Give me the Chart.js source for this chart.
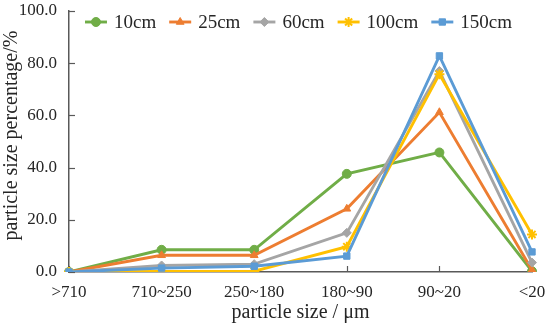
<!DOCTYPE html>
<html>
<head>
<meta charset="utf-8">
<script src="https://cdn.jsdelivr.net/npm/chart.js@4/dist/chart.umd.min.js"></script>
<style>
  html, body { margin: 0; padding: 0; background: #ffffff; }
  #wrap { width: 550px; height: 327px; position: relative; }
</style>
</head>
<body>
<div id="wrap"><canvas id="c" width="550" height="327"></canvas></div>
<script>
// ---- data ----
const categories = ['>710', '710~250', '250~180', '180~90', '90~20', '<20'];
const seriesNames = ['10cm', '25cm', '60cm', '100cm', '150cm'];
const s10cm  = [0, 8.5, 8.5, 37.6, 45.8, 0.3];
const s25cm  = [0, 6.4, 6.4, 24.2, 61.2, 0.8];
const s60cm  = [0, 2.5, 3.0, 15.0, 77.0, 3.6];
const s100cm = [0, 0.2, 0.3, 9.7, 75.8, 14.4];
const s150cm = [0, 1.5, 2.2, 6.1, 82.8, 7.7];
const yTicks = [0, 20, 40, 60, 80, 100];
const xTitle = 'particle size / μm';
const yTitle = 'particle size percentage/%';

const FONT = "'Liberation Serif', 'Times New Roman', serif";
const TEXT = '#262626';
const colors = ['#70AD47', '#ED7D31', '#A5A5A5', '#FFC000', '#5B9BD5'];
const markers = ['circle', 'triangle', 'rectRot', 'star', 'rect'];
const values = [s10cm, s25cm, s60cm, s100cm, s150cm];
const AXIS = '#595959';

const datasets = seriesNames.map((name, i) => ({
  label: name,
  data: values[i],
  borderColor: colors[i],
  backgroundColor: colors[i],
  pointBackgroundColor: colors[i],
  pointBorderColor: colors[i],
  pointStyle: markers[i],
  pointRadius: markers[i] === 'star' ? 5 : 4.5,
  pointBorderWidth: markers[i] === 'star' ? 2 : 1,
  borderWidth: 2.9,
  tension: 0,
  fill: false,
  order: seriesNames.length - i   // later series drawn on top
}));

const decor = {
  id: 'decor',
  beforeDatasetsDraw(chart) {
    const ctx = chart.ctx;
    const xs = chart.scales.x, ys = chart.scales.y;
    const ca = chart.chartArea;
    ctx.save();
    ctx.strokeStyle = AXIS;
    ctx.lineWidth = 1.2;
    xs.ticks.forEach((t, i) => {
      const x = Math.round(xs.getPixelForTick(i)) + 0.5;
      ctx.beginPath();
      ctx.moveTo(x, ca.bottom);
      ctx.lineTo(x, ca.bottom - 6);
      ctx.stroke();
    });
    ys.ticks.forEach((t, i) => {
      const y = Math.round(ys.getPixelForTick(i)) + 0.5;
      ctx.beginPath();
      ctx.moveTo(ca.left, y);
      ctx.lineTo(ca.left + 6, y);
      ctx.stroke();
    });
    // y axis title
    ctx.fillStyle = TEXT;
    ctx.font = '20px ' + FONT;
    ctx.textAlign = 'center';
    ctx.textBaseline = 'middle';
    ctx.translate(12, (ca.top + ca.bottom) / 2 - 6);
    ctx.rotate(-Math.PI / 2);
    ctx.fillText(yTitle, 0, 0);
    ctx.restore();
  },
  afterDatasetsDraw(chart) {
    // legend row inside chart area
    const ctx = chart.ctx;
    const ca = chart.chartArea;
    ctx.save();
    ctx.font = '19px ' + FONT;
    ctx.textBaseline = 'middle';
    const lineW = 22, gap1 = 7, gap2 = 13;
    const ds = chart.data.datasets;
    const widths = ds.map(d => lineW + gap1 + ctx.measureText(d.label).width);
    const total = widths.reduce((a, b) => a + b, 0) + gap2 * (ds.length - 1);
    let x = (ca.left + ca.right) / 2 - total / 2 - 2;
    const y = ca.top + 11;
    ds.forEach((d, i) => {
      ctx.strokeStyle = d.borderColor;
      ctx.lineWidth = d.borderWidth;
      ctx.beginPath();
      ctx.moveTo(x, y);
      ctx.lineTo(x + lineW, y);
      ctx.stroke();
      ctx.save();
      ctx.fillStyle = d.pointBackgroundColor;
      ctx.strokeStyle = d.pointBorderColor;
      ctx.lineWidth = d.pointBorderWidth;
      Chart.helpers.drawPoint(ctx, {
        pointStyle: d.pointStyle, radius: d.pointRadius,
        borderWidth: d.pointBorderWidth, rotation: 0
      }, x + lineW / 2, y);
      ctx.restore();
      ctx.fillStyle = TEXT;
      ctx.fillText(d.label, x + lineW + gap1, y + 1);
      x += widths[i] + gap2;
    });
    ctx.restore();
  }
};

new Chart(document.getElementById('c'), {
  type: 'line',
  data: { labels: categories, datasets },
  options: {
    responsive: false,
    animation: false,
    devicePixelRatio: 1,
    layout: { padding: 0 },
    plugins: {
      legend: { display: false },
      tooltip: { enabled: false }
    },
    scales: {
      x: {
        type: 'category',
        offset: false,
        grid: { display: false, drawTicks: false },
        border: { display: true, color: AXIS, width: 1.5 },
        ticks: {
          color: TEXT,
          font: { family: FONT, size: 17 },
          padding: 10,
          maxRotation: 0, autoSkip: false
        },
        title: {
          display: true, text: xTitle, color: TEXT,
          font: { family: FONT, size: 20 },
          padding: { top: 0, bottom: 2 }
        },
        afterFit(s) {
          s.height = 55;
          s.paddingLeft = 0;
          s.paddingRight = 18;
        }
      },
      y: {
        min: 0, max: 100,
        afterBuildTicks(axis) { axis.ticks = yTicks.map(v => ({ value: v })); },
        grid: { display: false, drawTicks: false },
        border: { display: true, color: AXIS, width: 1.5 },
        ticks: {
          color: TEXT,
          font: { family: FONT, size: 17 },
          padding: 12,
          callback: v => Number(v).toFixed(1)
        },
        afterFit(s) {
          s.width = 69;
          s.paddingTop = 11;
          s.paddingBottom = 0;
        }
      }
    }
  },
  plugins: [decor]
});
</script>
</body>
</html>
